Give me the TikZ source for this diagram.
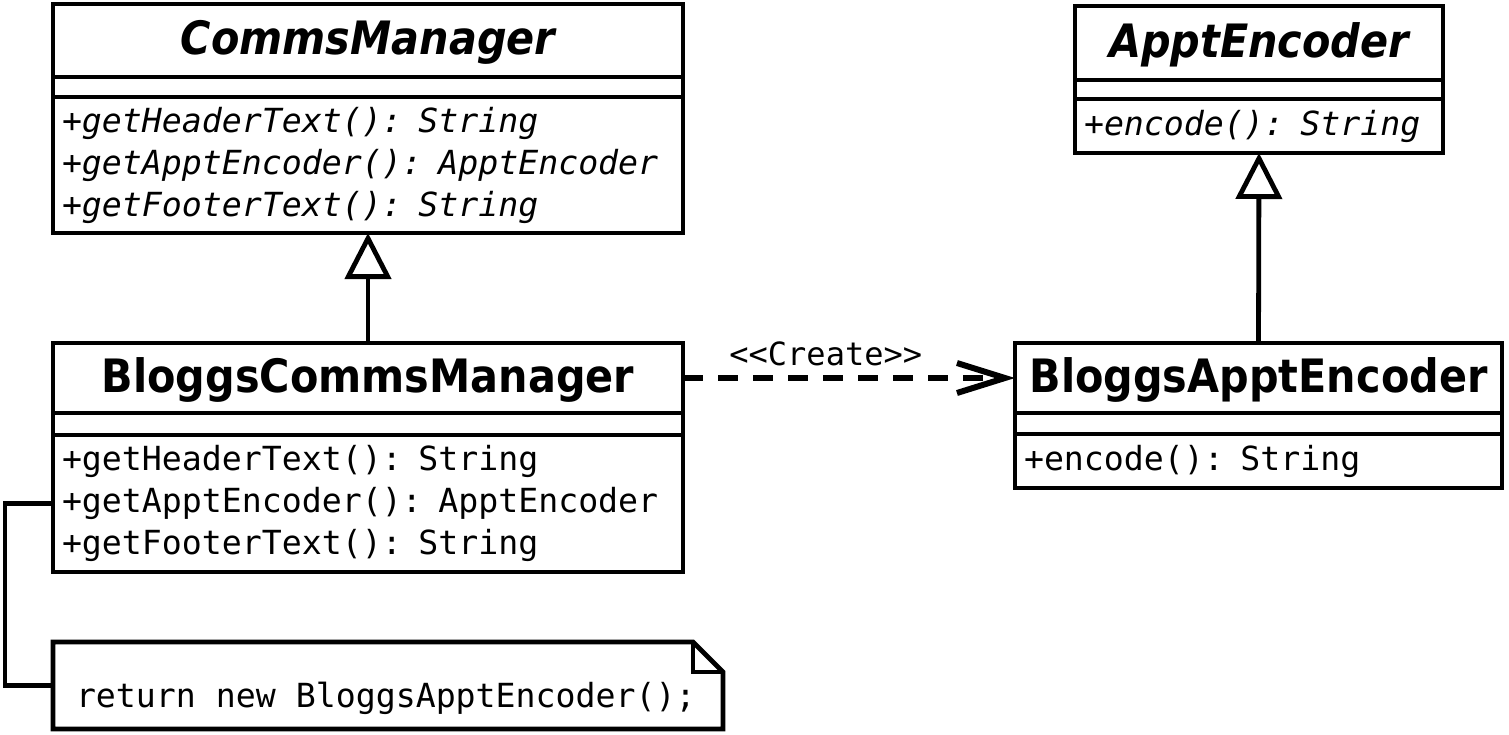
\documentclass[tikz,border=0pt]{standalone}
\usepackage{fontspec}
\setsansfont{DejaVu Sans}
\setmonofont{DejaVu Sans Mono}
\newfontfamily\titlefont{DejaVu Sans}[FakeStretch=0.9]
\usetikzlibrary{positioning,arrows.meta}

\tikzset{
  umlline/.style={line width=2.4pt},
  compartment/.style={draw, umlline, outer sep=0pt, inner sep=0pt},
  classname/.style={compartment, text height=16.8pt, text depth=2.5pt, font=\titlefont\bfseries\fontsize{23}{26}\selectfont},
  attrs/.style={compartment},
  ops/.style={compartment, align=left, inner xsep=4.5pt, font=\ttfamily\fontsize{16.6}{21}\selectfont},
  notetext/.style={inner ysep=0pt, inner xsep=11.5pt, outer sep=0pt, font=\ttfamily\fontsize{16.6}{21}\selectfont},
  generalise/.style={umlline, -{Triangle[open, length=23pt, width=23pt]}},
  create/.style={line width=2.8pt, dash pattern=on 10pt off 7.5pt, -{Straight Barb[length=24pt, width=15pt, line width=3pt]}},
}

\begin{document}
\begin{tikzpicture}[x=0.5pt, y=-0.5pt]
\useasboundingbox (0,0) rectangle (1509,734);
% CommsManager
\node [classname, anchor=north west, minimum width=315pt, minimum height=36.5pt] (cmT) at (53,4) {\itshape CommsManager};
\node [attrs, below=0pt of cmT, minimum width=315pt, minimum height=10pt] (cmA) {};
\node [ops, below=0pt of cmA, text width=306pt, minimum height=68pt] (cmO) {\itshape +getHeaderText(): String\\\itshape +getApptEncoder(): ApptEncoder\\\itshape +getFooterText(): String};
% BloggsCommsManager
\node [classname, anchor=north west, minimum width=315pt, minimum height=35pt] (bcmT) at (53,343) {BloggsCommsManager};
\node [attrs, below=0pt of bcmT, minimum width=315pt, minimum height=11pt] (bcmA) {};
\node [ops, below=0pt of bcmA, text width=306pt, minimum height=68.5pt] (bcmO) {+getHeaderText(): String\\+getApptEncoder(): ApptEncoder\\+getFooterText(): String};
% ApptEncoder
\node [classname, anchor=north west, minimum width=184pt, minimum height=37pt] (aeT) at (1075,6) {\itshape ApptEncoder};
\node [attrs, below=0pt of aeT, minimum width=184pt, minimum height=9.5pt] (aeA) {};
\node [ops, below=0pt of aeA, text width=175pt, minimum height=27pt] (aeO) {\itshape +encode(): String};
% BloggsApptEncoder
\node [classname, anchor=north west, minimum width=243.5pt, minimum height=35pt] (baeT) at (1015,343) {BloggsApptEncoder};
\node [attrs, below=0pt of baeT, minimum width=243.5pt, minimum height=10.5pt] (baeA) {};
\node [ops, below=0pt of baeA, text width=234.5pt, minimum height=27pt] (baeO) {+encode(): String};
% note
\node [notetext, anchor=north west, minimum height=43.5pt, text height=25.5pt, text depth=4pt] (note) at (53,642) {\makebox[312pt][l]{return new BloggsApptEncoder();}};
\draw [umlline] (note.north west) -- ([xshift=-15pt]note.north east) -- ([yshift=-15pt]note.north east) -- (note.south east) -- (note.south west) -- cycle;
\draw [umlline] ([xshift=-15pt]note.north east) |- ([yshift=-15pt]note.north east);
\draw [umlline] (bcmO.west) -- ++(-24pt,0) |- (note.west);
% relations
\draw [generalise] (bcmT.north) -- (cmO.south);
\draw [generalise] (baeT.north) -- (aeO.south);
\draw [create] (bcmT.east) -- node [above, pos=0.43, inner sep=4.5pt, font=\ttfamily\fontsize{16}{20}\selectfont] {<<Create>>} (baeT.west);
\end{tikzpicture}
\end{document}
